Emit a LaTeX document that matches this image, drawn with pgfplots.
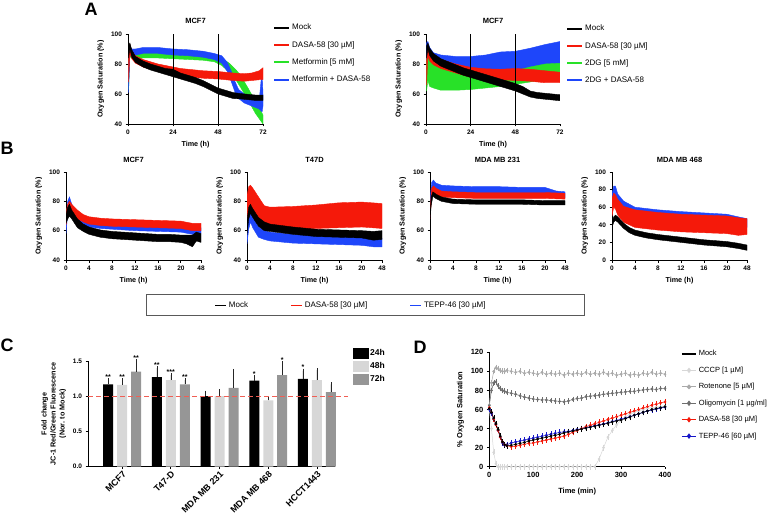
\documentclass[border=0pt]{standalone}
\usepackage{fontspec}
\setmainfont{Liberation Sans}
\usepackage{pgfplots}
\usepackage{pgfplotstable}
\pgfplotsset{compat=1.18}
\usepgfplotslibrary{fillbetween}

\definecolor{cred}{RGB}{245,25,10}
\definecolor{cgreen}{RGB}{40,225,40}
\definecolor{cblue}{RGB}{30,70,250}
\definecolor{gmid}{RGB}{215,215,215}
\definecolor{gdark}{RGB}{150,150,150}
\definecolor{dashred}{RGB}{240,95,85}
\definecolor{cccp}{RGB}{215,215,215}
\definecolor{rot}{RGB}{170,170,170}
\definecolor{oli}{RGB}{110,110,110}
\definecolor{tepp}{RGB}{20,20,200}

\newcommand{\fsz}[1]{\fontsize{#1}{#1}\selectfont}
\def\nostar{n}

\pgfplotsset{
  prism/.style={
    scale only axis, anchor=south west,
    axis x line=bottom, axis y line=left,
    axis line style={-, line width=0.8pt},
    every tick/.style={black, line width=0.8pt},
    major tick length=2.5pt, tick align=outside,
    tick label style={font=\bfseries\fsz{6.5}},
    label style={font=\bfseries\fsz{7.2}},
    title style={font=\bfseries\fsz{7.5}},
    /pgf/number format/assume math mode=true,
  },
  % empty axis laid over a band panel, only to hold its legend
  legax/.style={scale only axis, anchor=south west, hide axis,
    xmin=0, xmax=1, ymin=0, ymax=1, legend cell align=left},
}

% band = mean +/- spread, filled
\newcommand{\band}[3]{%
  \addplot[name path=#3u, draw=none, forget plot] table[x=x, y expr=\thisrow{y}+\thisrow{e}] {#1};
  \addplot[name path=#3l, draw=none, forget plot] table[x=x, y expr=\thisrow{y}-\thisrow{e}] {#1};
  \addplot[fill=#2, draw=#2, line width=0.4pt, forget plot] fill between[of=#3u and #3l];
}

% ---------- A, metformin
\pgfplotstableread{
x y e
0.3 88 4
1 92 2
2 87 2.5
4 83 2
8 80 2
12 78 2
16 76.5 2
20 75 2
24 74 2.5
28 72 2
32 70.5 2
36 69 2
40 67 2
44 64.5 2
48 62 2
52 60.5 2
56 59 2
60 58.5 1.8
64 58 1.8
68 57.5 1.8
72 57.5 1.8
}\AlK
\pgfplotstableread{
x y e
0.3 76 8
1 90 3
2 86 2.5
4 83 2.5
8 80.5 2.5
12 79 2.5
16 77.5 2.5
20 76.5 2.5
24 75.5 2.5
28 74.5 2.5
32 74 2.5
36 73.5 2.5
40 73 2.5
48 72.5 2.5
56 71.5 2.5
62 71 2.5
66 71.5 2.5
70 72.5 3
72 73.5 4
}\AlR
\pgfplotstableread{
x y e
0.3 72 9
1 88 3
2 86 2
4 85.5 2
8 86 2
16 86 2
24 85.5 2
32 85 2
40 84.5 2
46 83.5 2
50 81.5 2.5
54 77.5 3
58 72 3.5
60 68.5 4
64 60 4
68 51 4
72 43 3
}\AlG
\pgfplotstableread{
x y e
0.3 70 9
1 89 3
2 87.5 2.5
4 88 2
8 89 2
16 89 2
24 88 2
32 87.5 2
40 86.5 2
46 85 2
50 83 2.5
53 78 3
55 72 3.5
57 65 3.5
59 60 3
62 57 3
66 55 3
70 53 3
71.5 62 14
72 56 4
}\AlB

% ---------- A, 2DG
\pgfplotstableread{
x y e
0.3 88 4
1 92 2
2 88 2.5
4 84.5 2.5
8 81 2.5
12 79 2.5
16 77 2.5
20 75 2.5
24 73.5 2.5
28 72 2.5
32 70.5 2.5
36 69 2.5
40 67.5 2.5
44 66 2.5
48 64.5 2.5
52 62.5 2.5
56 60 2
60 59 2
64 58.5 2
68 58 2
72 57.5 2
}\ArK
\pgfplotstableread{
x y e
0.3 74 8
1 88 3
2 85 3
4 82.5 3
8 80 3
12 78.5 3
16 77 3
24 74.5 3.3
32 73.5 3.3
40 73 3.5
48 73 4
56 72.5 4
64 71.5 4
72 71 3.5
}\ArR
\pgfplotstableread{
x y e
0.3 72 10
1 79 10
2 75 10
4 72 8
8 70 7.5
12 69.5 7
16 69 6.5
24 69 6
32 69.5 5.5
40 70 5
48 71 4.5
56 73 5
64 75 5
72 76 4.5
}\ArG
\pgfplotstableread{
x y e
0.3 82 12
1 86 9
2 83 8
4 80 7.5
8 78.5 7.5
16 77.5 7.5
24 77 8
32 77.5 8.5
40 79 9
48 80 8.5
56 81.5 9
64 83 10
72 84 11
}\ArB

% ---------- B (x axis 0-23.5, last tick labelled 48)
\pgfplotstableread{
x y e
0 68 3
0.3 72 4
0.6 74 4
1 71 3
1.5 68 3
2 65 3
3 62 2.5
4 60 2.5
6 58 2.5
8 57 2.5
10 56.5 2.5
12 56 2.5
14 55.5 2.5
16 55 2.5
18 55 2.5
20 54.5 2.5
21 54 3
22 53 4
22.7 56 3
23.5 55 3
}\BaK
\pgfplotstableread{
x y e
0 68 4
0.3 74 4
0.6 77 3
1 75 3
2 71 3
3 68.5 2.5
4 67 2.5
6 66 2.5
8 65.5 2.5
12 65 2.5
16 64.5 2.5
20 64 2.5
22 62.5 2.5
23.5 62.5 2.5
}\BaR
\pgfplotstableread{
x y e
0 62 4
0.3 76 4
0.6 80 3
1 75 3
2 69 2.5
3 66 2.5
4 64.5 2
6 63.5 2
8 63 2
12 62 2
16 61.5 2
20 61 2
22 59.5 2
23.5 60 2
}\BaB
\pgfplotstableread{
x y e
0 62 5
0.3 72 4
0.6 75 3
1 72 3
2 66 3
3 63 3
4 62 2.5
8 60 2.5
12 58.5 2.5
16 58 2.5
20 57.5 2.5
22 56.5 3
23.5 57 3
}\BbK
\pgfplotstableread{
x y e
0 72 12
0.3 80 10
0.6 82 9
1 80 9
2 74 9
3 69 8
4 68 8
8 68.5 8
12 69.5 8
16 70.5 8.5
20 71 8.5
23.5 70 8.5
}\BbR
\pgfplotstableread{
x y e
0 56 5
0.3 66 5
0.6 70 4
1 66 4
2 59 3.5
3 57 3
4 56 3
8 54.5 3
12 54 3
16 53.5 3
20 53 3
22 52 3
23.5 52 3
}\BbB
\pgfplotstableread{
x y e
0 68 2
0.2 80 3
0.5 85 1.5
1 83.5 1.5
2 81.5 1.5
4 80 1.5
8 79.5 1.5
12 79.5 1.5
16 79.5 1.5
20 79 1.5
23.5 79 1.5
}\BcK
\pgfplotstableread{
x y e
0 72 4
0.3 86 3
0.6 88 2.5
1 86.5 2.5
2 85 2
4 84.5 2
8 84 2
12 84 2
16 84 2
20 84 2
23.5 83.5 2
}\BcR
\pgfplotstableread{
x y e
0 75 6
0.3 90 3
0.6 92 2.5
1 90 2.5
2 88.5 2.5
4 88 2.5
8 87.5 2.5
12 87.5 2.5
16 87 2.5
20 87 2.5
22 85 2
23.5 84.5 2
}\BcB
\pgfplotstableread{
x y e
0 40 3
0.3 46 3
0.6 48 3
1 46 3
2 39 3
3 34 3
4 31 3
6 28 3
8 26 3
12 23 3
16 20 3
20 18 3
22 16 3
23.5 14 3
}\BdK
\pgfplotstableread{
x y e
0 60 10
0.3 68 8
0.6 66 8
1 60 9
2 52 9
4 47 10
8 44 10
12 42 10
16 41 10
20 40 10
22 38 10
23.5 38 9
}\BdR
\pgfplotstableread{
x y e
0 65 10
0.3 78 6
0.6 79 5
1 70 5
2 62 5
4 55 5
8 52 5
12 50 5
16 48.5 5
20 47 5
22 44 5
23.5 42 5
}\BdB

% ---------- C, JC-1 (group index, value, error, stars; n = no star)
\pgfplotstableread{
x y e s
0 1.17 0.06 **
1 1.27 0.13 **
2 1.00 0.05 n
3 1.22 0.05 *
4 1.245 0.12 *
}\Cta
\pgfplotstableread{
x y e s
0 1.16 0.07 **
1 1.23 0.07 ***
2 1.00 0.07 n
3 0.94 0.03 n
4 1.23 0.14 n
}\Ctb
\pgfplotstableread{
x y e s
0 1.35 0.15 **
1 1.17 0.06 **
2 1.12 0.24 n
3 1.30 0.17 *
4 1.06 0.11 n
}\Ctc

% ---------- D, oxygen saturation over 400 min
\pgfplotstableread{
t mock dasa tepp cccp rot oli
0 61 62 60 60 65 64
5 57 57 56 40 88 80
10 51 50 50 15 100 88
15 45 44 44 3 104 89
20 39 38 38 0 103 85
25 32 31 31 0 101 82
30 26 26 25 0 100 80
35 23 23 22.5 0 100 79
40 22 22 23 0 101 78
50 22.5 21 25 0 100 77
60 23.5 21.5 26 0 99 76
70 24.5 22.5 27 0 100 74.5
80 25.5 23.5 28 0 98 73
90 27 24.5 29 0 99 72
100 28 25 30 0 98 71
110 29 26 31 0 97 70.5
120 30 27 32 0 99 70
130 31 28 33 0 97 70
140 32 29 34 0 98 69.5
150 33 30 35 0 97 69
160 34 31 36 0 98 68.5
170 35.5 32 36.5 0 96 68
180 36.5 34 37 0 98 69
190 37.5 36 38 0 97 70.5
200 38.5 38 39 0 98 71.5
210 39.5 40 40 0 97 72
220 40.5 42 41 0 99 73.5
230 41.5 43.5 42 0 97 74
240 42.5 45 43 0 98 74.5
250 43.5 46.5 44 8 97 75
260 44.5 48 45 20 99 76
270 45.5 49.5 46 31 97 76.5
280 47 51 47.5 38 98 77
290 48 52.5 48.5 44 96 77.5
300 49 54 50 49 97 78
310 50.5 55.5 51 52.5 98 78.5
320 52 57 52.5 55 96 79
330 54 58.5 54 57 97 79
340 55.5 60 55.5 58.5 96 80
350 57 61.5 57 60 98 80.5
360 58.5 63 58.5 61 97 81
370 60 64.5 59.5 62 99 81.5
380 61 65.5 60.5 62.5 97 81
390 62 67 61.5 63 98 82
400 63 68 62.5 63.5 97 82
}\Dtab

\begin{document}
\begin{tikzpicture}

% ===== A left
\begin{axis}[prism, at={(128pt,396pt)}, width=135pt, height=90pt,
  xmin=0, xmax=72, ymin=40, ymax=100, xtick={0,24,48,72}, ytick={40,60,80,100},
  title={MCF7}, title style={yshift=1pt},
  xlabel={Time (h)}, ylabel={Oxygen Saturation (\%)}]
\band{\AlG}{cgreen}{g}
\band{\AlB}{cblue}{b}
\band{\AlR}{cred}{r}
\band{\AlK}{black}{k}
\addplot[black, line width=0.6pt, forget plot] coordinates {(24,40) (24,100)};
\addplot[black, line width=0.6pt, forget plot] coordinates {(48,40) (48,100)};
\end{axis}
\begin{axis}[legax, at={(128pt,396pt)}, width=135pt, height=90pt,
  legend style={at={(1.074,1.135)}, anchor=north west, draw=none, fill=none,
    font=\fsz{8}, row sep=6pt, inner sep=0pt},
  legend image code/.code={\draw[#1, line width=2pt] plot coordinates {(0pt,0pt) (7.5pt,0pt) (15pt,0pt)};}]
\addplot[draw=none, forget plot] coordinates {(0,0) (1,1)};
\addlegendimage{black}\addlegendentry{Mock}
\addlegendimage{cred}\addlegendentry{DASA-58 [30 µM]}
\addlegendimage{cgreen}\addlegendentry{Metformin [5 mM]}
\addlegendimage{cblue}\addlegendentry{Metformin + DASA-58}
\end{axis}

% ===== A right
\begin{axis}[prism, at={(426pt,396pt)}, width=134pt, height=90pt,
  xmin=0, xmax=72, ymin=40, ymax=100, xtick={0,24,48,72}, ytick={40,60,80,100},
  title={MCF7}, title style={yshift=1pt},
  xlabel={Time (h)}, ylabel={Oxygen Saturation (\%)}]
\band{\ArB}{cblue}{b}
\band{\ArG}{cgreen}{g}
\band{\ArR}{cred}{r}
\band{\ArK}{black}{k}
\addplot[black, line width=0.6pt, forget plot] coordinates {(24,40) (24,100)};
\addplot[black, line width=0.6pt, forget plot] coordinates {(48,40) (48,100)};
\end{axis}
\begin{axis}[legax, at={(426pt,396pt)}, width=134pt, height=90pt,
  legend style={at={(1.045,1.125)}, anchor=north west, draw=none, fill=none,
    font=\fsz{8}, row sep=6pt, inner sep=0pt},
  legend image code/.code={\draw[#1, line width=2pt] plot coordinates {(0pt,0pt) (7.5pt,0pt) (15pt,0pt)};}]
\addplot[draw=none, forget plot] coordinates {(0,0) (1,1)};
\addlegendimage{black}\addlegendentry{Mock}
\addlegendimage{cred}\addlegendentry{DASA-58 [30 µM]}
\addlegendimage{cgreen}\addlegendentry{2DG [5 mM]}
\addlegendimage{cblue}\addlegendentry{2DG + DASA-58}
\end{axis}

% ===== B
\pgfplotsset{bstyle/.style={prism, width=135pt, height=88pt,
  xmin=0, xmax=23.5, xtick={0,4,8,12,16,20,23.5}, xticklabels={0,4,8,12,16,20,48},
  title style={yshift=0pt}, xlabel={Time (h)}, ylabel={Oxygen Saturation (\%)}}}

\begin{axis}[bstyle, at={(66pt,260pt)}, ymin=40, ymax=100, ytick={40,60,80,100}, title={MCF7}]
\band{\BaB}{cblue}{b}
\band{\BaR}{cred}{r}
\band{\BaK}{black}{k}
\end{axis}

\begin{axis}[bstyle, at={(247pt,260pt)}, ymin=40, ymax=100, ytick={40,60,80,100}, title={T47D}]
\band{\BbR}{cred}{r}
\band{\BbB}{cblue}{b}
\band{\BbK}{black}{k}
\end{axis}
\begin{axis}[legax, at={(247pt,260pt)}, width=135pt, height=88pt,
  legend columns=3,
  legend style={at={(-0.267,-0.518)}, anchor=west, draw=none, fill=none, font=\fsz{8},
    /tikz/every even column/.append style={column sep=40pt}},
  legend image code/.code={\draw[#1, line width=1.8pt] plot coordinates {(0pt,0pt) (5.5pt,0pt) (11pt,0pt)};}]
\addplot[draw=none, forget plot] coordinates {(0,0) (1,1)};
\addlegendimage{black}\addlegendentry{Mock}
\addlegendimage{cred}\addlegendentry{DASA-58 [30 µM]}
\addlegendimage{cblue}\addlegendentry{TEPP-46 [30 µM]}
\end{axis}

\begin{axis}[bstyle, at={(430pt,260pt)}, ymin=40, ymax=100, ytick={40,60,80,100}, title={MDA MB 231}]
\band{\BcB}{cblue}{b}
\band{\BcR}{cred}{r}
\band{\BcK}{black}{k}
\end{axis}

\begin{axis}[bstyle, at={(612pt,260pt)}, ymin=0, ymax=100, ytick={0,20,40,60,80,100}, title={MDA MB 468}]
\band{\BdB}{cblue}{b}
\band{\BdR}{cred}{r}
\band{\BdK}{black}{k}
\end{axis}

\draw[black!65, line width=0.9pt] (146pt,205pt) rectangle (584pt,226pt);

% ===== C  (bars placed at group +/- 0.287, i.e. 14pt apart)
\begin{axis}[prism, at={(88pt,53.3pt)}, width=247pt, height=105.7pt,
  xmin=-0.7, xmax=4.37, ymin=0, ymax=1.5, clip=false,
  ytick={0,0.5,1,1.5},
  yticklabel style={/pgf/number format/fixed, /pgf/number format/fixed zerofill, /pgf/number format/precision=1},
  xtick={0,1,2,3,4}, xticklabels={MCF7,T47-D,MDA MB 231,MDA MB 468,HCCT1443},
  xticklabel style={rotate=45, anchor=north east, font=\bfseries\fsz{9}, inner sep=1pt},
  ylabel={Fold change\\JC-1 Red/Green Fluorescence\\(Nor. to Mock)},
  ylabel style={align=center, font=\bfseries\fontsize{7.2}{9}\selectfont},
  legend style={at={(1.061,1.142)}, anchor=north west, draw=none, fill=none,
    font=\bfseries\fsz{8.5}, row sep=2pt, nodes={inner sep=1.5pt}},
  legend cell align=left,
  legend image code/.code={\fill[#1] (0pt,-5pt) rectangle (15pt,5pt);},
  cbar/.style={ybar, bar width=10pt, bar shift=0pt, draw=none, forget plot,
    nodes near coords={\ifx\pgfplotspointmeta\nostar\else\pgfplotspointmeta\fi},
    point meta=explicit symbolic,
    visualization depends on={\thisrow{e} \as \myerr},
    every node near coord/.append style={anchor=south, font=\bfseries\fsz{7}, inner sep=0.8pt,
      shift={(axis direction cs:0,\myerr)}},
    /pgfplots/error bars/y dir=plus, /pgfplots/error bars/y explicit,
    /pgfplots/error bars/error bar style={black!85, line width=0.6pt},
    /pgfplots/error bars/error mark options={black!85, mark size=2pt, line width=0.6pt}}]
\addplot[cbar, fill=black] table[x expr=\thisrow{x}-0.287, y=y, y error=e, meta=s] {\Cta};
\addplot[cbar, fill=gmid] table[x=x, y=y, y error=e, meta=s] {\Ctb};
\addplot[cbar, fill=gdark] table[x expr=\thisrow{x}+0.287, y=y, y error=e, meta=s] {\Ctc};
\addplot[dashred, line width=1.3pt, dash pattern=on 5pt off 3pt, forget plot] coordinates {(-0.7,1) (4.63,1)};
\addlegendimage{black}\addlegendentry{24h}
\addlegendimage{gmid}\addlegendentry{48h}
\addlegendimage{gdark}\addlegendentry{72h}
\end{axis}

% ===== D
\begin{axis}[prism, at={(489.3pt,53.3pt)}, width=175.7pt, height=114.4pt,
  xmin=0, xmax=400, ymin=0, ymax=120, clip=false,
  xtick={0,100,200,300,400}, ytick={0,20,40,60,80,100,120},
  tick label style={font=\bfseries\fsz{7.5}},
  label style={font=\bfseries\fsz{7.5}},
  xlabel={Time (min)}, xlabel style={yshift=-3pt}, ylabel={\% Oxygen Saturation},
  legend style={at={(1.091,1.035)}, anchor=north west, draw=none, fill=none,
    font=\fsz{7.5}, row sep=5.5pt, inner sep=0pt},
  legend cell align=left,
  legend image code/.code={\draw[mark repeat=2, mark phase=2, #1] plot coordinates {(0pt,0pt) (7pt,0pt) (14pt,0pt)};},
  dser/.style={line width=0.5pt, mark=*, mark size=1.1pt, forget plot,
    /pgfplots/error bars/y dir=both, /pgfplots/error bars/y fixed=2,
    /pgfplots/error bars/error bar style={line width=0.4pt},
    /pgfplots/error bars/error mark options={mark size=1pt, line width=0.4pt}}]
\addplot[dser, cccp] table[x=t, y=cccp] {\Dtab};
\addplot[dser, rot] table[x=t, y=rot] {\Dtab};
\addplot[dser, oli] table[x=t, y=oli] {\Dtab};
\addplot[dser, tepp] table[x=t, y=tepp] {\Dtab};
\addplot[dser, cred] table[x=t, y=dasa] {\Dtab};
\addplot[dser, black] table[x=t, y=mock] {\Dtab};
\addlegendimage{black, line width=1.6pt}\addlegendentry{Mock}
\addlegendimage{cccp, line width=1pt, mark=diamond*, mark size=2pt}\addlegendentry{CCCP [1 µM]}
\addlegendimage{rot, line width=1pt, mark=*, mark size=1.8pt}\addlegendentry{Rotenone [5 µM]}
\addlegendimage{oli, line width=1pt, mark=diamond*, mark size=2pt}\addlegendentry{Oligomycin [1 µg/ml]}
\addlegendimage{cred, line width=1pt, mark=diamond*, mark size=2pt}\addlegendentry{DASA-58 [30 µM]}
\addlegendimage{tepp, line width=1pt, mark=diamond*, mark size=2pt}\addlegendentry{TEPP-46 [60 µM]}
\end{axis}

% panel letters
\node[font=\bfseries\fsz{18}] at (91pt,511pt) {A};
\node[font=\bfseries\fsz{18}] at (7pt,372pt) {B};
\node[font=\bfseries\fsz{18}] at (7pt,175pt) {C};
\node[font=\bfseries\fsz{18}] at (420pt,173pt) {D};

\pgfresetboundingbox
\path[use as bounding box] (0,0) rectangle (778pt,520pt);
\end{tikzpicture}
\end{document}
